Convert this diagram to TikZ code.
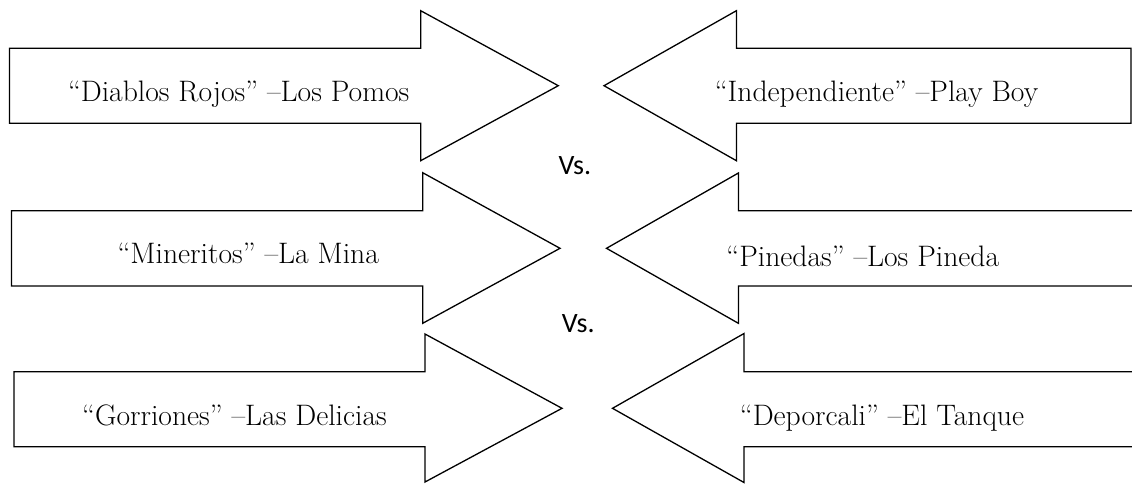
\documentclass[tikz,border=0pt]{standalone}
\usepackage{fontspec}
\newfontfamily\vsfont{Carlito}
\begin{document}
\begin{tikzpicture}[x=1pt,y=-1pt,
  arrowshape/.style={draw=black,line width=1.3pt,line join=miter,fill=white},
  team/.style={font=\fontsize{29.6}{34}\selectfont,inner sep=0pt,anchor=base},
  versus/.style={font=\vsfont\fontsize{28}{32}\selectfont,inner sep=0pt,anchor=base west}]
\useasboundingbox (0,0) rectangle (1132,483);

% left column: arrows pointing right
\draw[arrowshape] (9.5,48.3) -- (420.7,48.3) -- (420.7,10.7) -- (558.3,85.7)
  -- (420.7,160.7) -- (420.7,123.3) -- (9.5,123.3) -- cycle;
\draw[arrowshape] (11.5,210.7) -- (422.7,210.7) -- (422.7,172.7) -- (560,248.3)
  -- (422.7,323.3) -- (422.7,286) -- (11.5,286) -- cycle;
\draw[arrowshape] (14,371.7) -- (425,371.7) -- (425,334) -- (562,408.3)
  -- (425,482) -- (425,446.7) -- (14,446.7) -- cycle;

% right column: arrows pointing left
\draw[arrowshape] (1131,48.3) -- (736.4,48.3) -- (736.4,10.7) -- (604,85.7)
  -- (736.4,160.7) -- (736.4,123.3) -- (1131,123.3) -- cycle;
\draw[arrowshape] (1140,210.7) -- (738.4,210.7) -- (738.4,173) -- (606.5,248.3)
  -- (738.4,323.3) -- (738.4,286) -- (1140,286);
\draw[arrowshape] (1140,371.7) -- (744,371.7) -- (744,333.5) -- (612.5,408.3)
  -- (744,482.5) -- (744,446.7) -- (1140,446.7);

% team labels
\node[team] (t1) at (238.7,101.7) {“Diablos Rojos” –Los Pomos};
\node[team] (t2) at (248.3,263.5) {“Mineritos” –La Mina};
\node[team] (t3) at (234.5,425) {“Gorriones” –Las Delicias};
\node[team] (r1) at (876.5,101.7) {“Independiente” –Play Boy};
\node[team] (r2) at (862.8,266) {“Pinedas” –Los Pineda};
\node[team] (r3) at (882,425) {“Deporcali” –El Tanque};

% match separators
\node[versus] (vs1) at (558.3,174) {Vs.};
\node[versus] (vs2) at (561.7,332.7) {Vs.};
\end{tikzpicture}
\end{document}
